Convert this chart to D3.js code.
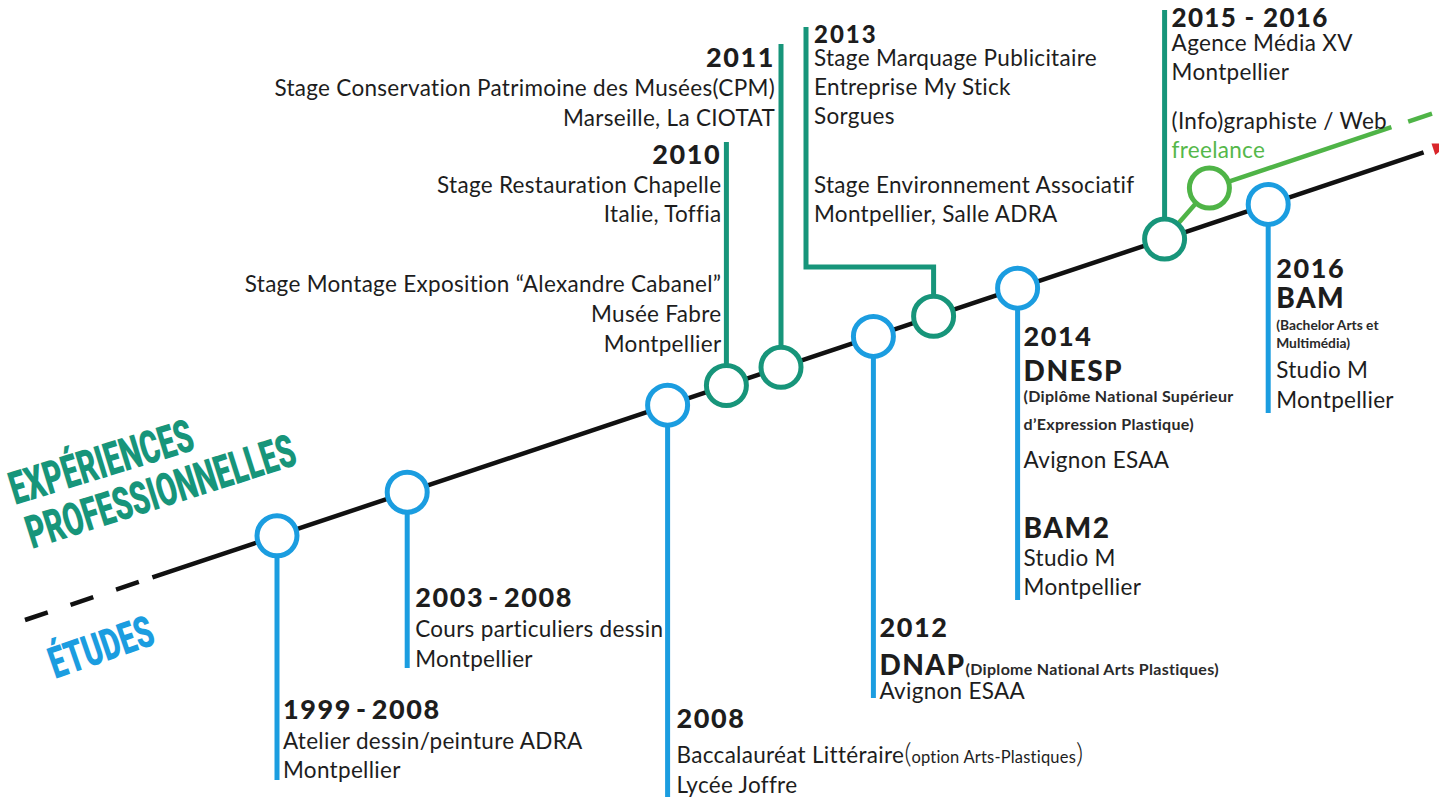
<!DOCTYPE html>
<html><head><meta charset="utf-8">
<script src="https://cdn.jsdelivr.net/npm/d3@7"></script>
<style>
html,body{margin:0;padding:0;background:#fff;overflow:hidden}
svg{display:block;background:#fff}
text{font-family:Lato,"Open Sans",sans-serif;fill:#1d1d1d}
.yr{font-weight:900;font-size:27px;letter-spacing:1.6px}
.yr13{font-weight:900;font-size:24px;letter-spacing:2px}
.yr15{font-weight:900;font-size:26px;letter-spacing:1.3px}
.big{font-weight:900;font-size:28px;letter-spacing:1.5px}
.body{font-size:22.5px;letter-spacing:0.3px}
.sm{font-size:16px;font-weight:700;letter-spacing:0.3px;fill:#2a2a2a}
.xs{font-size:13.8px;font-weight:700;fill:#2a2a2a}
.opt{font-size:16.5px;letter-spacing:0.2px}
.paren{font-size:28px;font-weight:300}
.green{font-size:22.5px;letter-spacing:0.3px;fill:#55b84a}
.leg{font-family:Roboto,"Open Sans",sans-serif;font-weight:900}
</style></head><body>
<svg id="c" width="1439" height="803"></svg>
<script>
// ---------- DATA ----------
const etudesYears = ["1999-2008","2003-2008","2008","2012","2014","2016"];
const etudesPos   = [18.0, 27.3, 45.9, 60.6, 70.9, 88.8];
const etudesDetails = [
  [[["Atelier dessin/peinture ADRA","body"]],[["Montpellier","body"]]],
  [[["Cours particuliers dessin","body"]],[["Montpellier","body"]]],
  [[["Baccalauréat Littéraire","body"],["(","paren"],["option Arts-Plastiques","opt"],[")","paren"]],[["Lycée Joffre","body"]]],
  [[["DNAP","big"],["(Diplome National Arts Plastiques)","sm"]],[["Avignon ESAA","body"]]],
  [[["DNESP","big"]],[["(Diplôme National Supérieur","sm"]],[["d’Expression Plastique)","sm"]],[["Avignon ESAA","body"]],[["BAM2","big"]],[["Studio M","body"]],[["Montpellier","body"]]],
  [[["BAM","big"]],[["(Bachelor Arts et","xs"]],[["Multimédia)","xs"]],[["Studio M","body"]],[["Montpellier","body"]]]
];
const experiencesYears = ["2010","2011","2013","2015 - 2016"];
const experiencesPos   = [50.1, 54.0, 64.9, 81.4];
const experiencesDetails = [
  [[["Stage Restauration Chapelle","body"]],[["Italie, Toffia","body"]],[["Stage Montage Exposition “Alexandre Cabanel”","body"]],[["Musée Fabre","body"]],[["Montpellier","body"]]],
  [[["Stage Conservation Patrimoine des Musées(CPM)","body"]],[["Marseille, La CIOTAT","body"]]],
  [[["Stage Marquage Publicitaire","body"]],[["Entreprise My Stick","body"]],[["Sorgues","body"]],[["Stage Environnement Associatif","body"]],[["Montpellier, Salle ADRA","body"]]],
  [[["Agence Média XV","body"]],[["Montpellier","body"]],[["(Info)graphiste / Web","body"]],[["freelance","green"]]]
];
const freelancePos = 84.6;
const legendLabels = ["EXPÉRIENCES","PROFESSIONNELLES","ÉTUDES"];

// ---------- LAYOUT ----------
const BLUE="#1b9de0", TEAL="#17957a", LGREEN="#4fb447";
const R=20, CSW=5, SSW=5;
const etudesLayout = [
  {end:780, dx:6, yrCls:"yr", base:[719,749,778]},
  {end:668, dx:8, yrCls:"yr", base:[607,637,667]},
  {end:797, dx:9, yrCls:"yr", base:[728,763,793]},
  {end:698, dx:6, yrCls:"yr", base:[637,675,699]},
  {end:600, dx:6, yrCls:"yr", base:[346,381,402,430,468,538,566,595]},
  {end:413, dx:8, yrCls:"yr", base:[278,308,330,348,378,408]}
];
const experiencesLayout = [
  {top:142, anchor:"end", dx:-5, yrCls:"yr", base:[164,193,222,292,322,352]},
  {top:44,  anchor:"end", dx:-6, yrCls:"yr", base:[67,96,126]},
  {top:27,  anchor:"start", dx:8, yrCls:"yr13", elbowY:267, elbowX:806, base:[43,66,95,124,193,222]},
  {top:10,  anchor:"start", dx:7, yrCls:"yr15", base:[27,51,80,129,158]}
];

const svg = d3.select("#c");
const x = d3.scaleLinear().domain([0,100]).range([25,1425]);
const y = d3.scaleLinear().domain([0,100]).range([620,152]);
const branchOff = -36;

const gLines = svg.append("g"), gStems = svg.append("g"), gCircles = svg.append("g"), gText = svg.append("g");

// main timeline: dashed start then solid
const dashEnd = 9.1;
gLines.append("line").attr("x1",x(0)).attr("y1",y(0)).attr("x2",x(dashEnd)).attr("y2",y(dashEnd))
  .attr("stroke","#111").attr("stroke-width",4.5).attr("stroke-dasharray","24 24");
gLines.append("line").attr("x1",x(dashEnd)).attr("y1",y(dashEnd)).attr("x2",x(99.9)).attr("y2",y(99.9))
  .attr("stroke","#111").attr("stroke-width",4.5);
// red arrow head (cut by the edge)
{
  const ang = Math.atan2(y(100)-y(0), x(100)-x(0));
  const bx = x(100.6), by = y(100.6);
  const pts = [[0,-6],[18,0],[0,6]].map(([u,v])=>[bx+u*Math.cos(ang)-v*Math.sin(ang), by+u*Math.sin(ang)+v*Math.cos(ang)]);
  gLines.append("polygon").attr("points",pts.map(p=>p.join(",")).join(" ")).attr("fill","#d9262b");
}
// freelance branch
const bx0 = freelancePos, bSolidEnd = 97.6, bDashStart = 98.8, bDashEnd = 100.5;
gLines.append("line").attr("x1",x(bx0)).attr("y1",y(bx0)+branchOff).attr("x2",x(bSolidEnd)).attr("y2",y(bSolidEnd)+branchOff)
  .attr("stroke",LGREEN).attr("stroke-width",4.5);
gLines.append("line").attr("x1",x(bDashStart)).attr("y1",y(bDashStart)+branchOff).attr("x2",x(bDashEnd)).attr("y2",y(bDashEnd)+branchOff)
  .attr("stroke",LGREEN).attr("stroke-width",4.5);
gLines.append("line").attr("x1",x(experiencesPos[3])).attr("y1",y(experiencesPos[3])).attr("x2",x(bx0)).attr("y2",y(bx0)+branchOff)
  .attr("stroke",LGREEN).attr("stroke-width",4.5);

// études stems
etudesPos.forEach((p,i)=>{
  const L = etudesLayout[i];
  gStems.append("line").attr("x1",x(p)).attr("x2",x(p)).attr("y1",y(p)).attr("y2",L.end)
    .attr("stroke",BLUE).attr("stroke-width",SSW);
});
// expériences stems
experiencesPos.forEach((p,i)=>{
  const L = experiencesLayout[i];
  if (L.elbowY){
    gStems.append("path").attr("d",`M${x(p)},${y(p)}V${L.elbowY}H${L.elbowX}V${L.top}`)
      .attr("fill","none").attr("stroke",TEAL).attr("stroke-width",SSW);
  } else {
    gStems.append("line").attr("x1",x(p)).attr("x2",x(p)).attr("y1",y(p)).attr("y2",L.top)
      .attr("stroke",TEAL).attr("stroke-width",SSW);
  }
});

gCircles.selectAll("circle.e").data(etudesPos).join("circle").attr("class","e")
  .attr("cx",d=>x(d)).attr("cy",d=>y(d)).attr("r",R).attr("fill","#fff").attr("stroke",BLUE).attr("stroke-width",CSW);
gCircles.selectAll("circle.x").data(experiencesPos).join("circle").attr("class","x")
  .attr("cx",d=>x(d)).attr("cy",d=>y(d)).attr("r",R).attr("fill","#fff").attr("stroke",TEAL).attr("stroke-width",CSW);
gCircles.append("circle").attr("cx",x(freelancePos)).attr("cy",y(freelancePos)+branchOff).attr("r",R)
  .attr("fill","#fff").attr("stroke",LGREEN).attr("stroke-width",CSW);

// text blocks
function yearSegs(year, cls){
  // widen the joining hyphen of compact ranges like 1999-2008
  if (/^\d{4}-\d{4}$/.test(year)){
    const [a,b] = year.split("-");
    return [[a,cls,0],["-",cls,4],[b,cls,4]];
  }
  return [[year,cls,0]];
}
function block(px, anchor, year, yrCls, details, base){
  const lines = [yearSegs(year, yrCls), ...details];
  lines.forEach((segs,j)=>{
    const t = gText.append("text").attr("x",px).attr("y",base[j]).attr("text-anchor",anchor);
    segs.forEach(([s,c,dx])=>{
      const ts = t.append("tspan").attr("class",c).text(s);
      if (dx) ts.attr("dx",dx);
    });
  });
}
etudesPos.forEach((p,i)=>{
  const L = etudesLayout[i];
  block(x(p)+L.dx, "start", etudesYears[i], L.yrCls, etudesDetails[i], L.base);
});
experiencesPos.forEach((p,i)=>{
  const L = experiencesLayout[i];
  const sx = L.elbowX ? L.elbowX : x(p);
  block(sx+L.dx, L.anchor, experiencesYears[i], L.yrCls, experiencesDetails[i], L.base);
});

// rotated legend labels
const legSpecs = [
  {tx:15, ty:505, rot:-17,   len:190, fs:46, col:TEAL},
  {tx:32, ty:549, rot:-17.6, len:280, fs:46, col:TEAL},
  {tx:55, ty:679, rot:-19,   len:108, fs:44, col:BLUE}
];
legendLabels.forEach((s,i)=>{
  const L = legSpecs[i];
  svg.append("text").attr("class","leg").attr("transform",`translate(${L.tx},${L.ty}) rotate(${L.rot})`)
    .attr("font-size",L.fs).attr("textLength",L.len).attr("lengthAdjust","spacingAndGlyphs")
    .style("fill",L.col).text(s);
});
</script></body></html>
